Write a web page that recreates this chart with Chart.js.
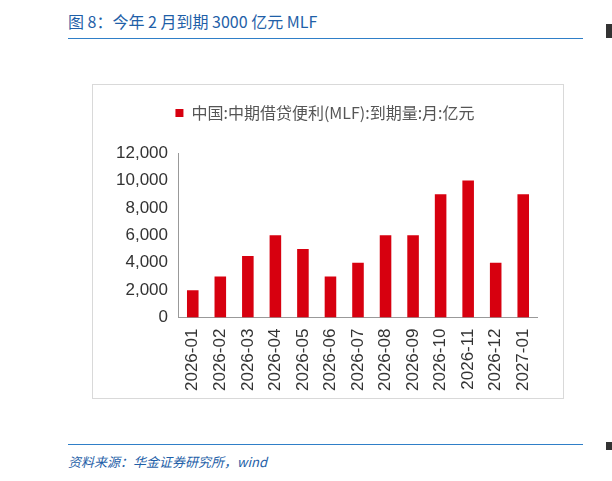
<!DOCTYPE html>
<html><head><meta charset="utf-8">
<script src="https://cdn.jsdelivr.net/npm/chart.js@4"></script>
<style>
body{margin:0;width:612px;height:481px;background:#fff;position:relative;font-family:"Noto Sans CJK SC","Noto Sans",sans-serif;overflow:hidden}
#title{position:absolute;left:68px;top:9px;font-size:16px;color:#1f5fa8}
#line1{position:absolute;left:68px;top:38px;width:515px;height:1px;background:#2f7fc8}
#box{position:absolute;left:92px;top:84px;width:470px;height:313px;border:1px solid #d9d9d9}
#line2{position:absolute;left:68px;top:444px;width:515px;height:1px;background:#2f7fc8}
#src{position:absolute;left:68px;top:452px;font-size:13px;font-style:italic;color:#1f5fa8}
.edge{position:absolute;left:606px;width:6px;height:14px;background:#333}
</style></head>
<body>
<div id="title">图 8：今年 2 月到期 3000 亿元 MLF</div>
<div id="line1"></div>
<div id="box"><canvas id="c" width="470" height="313"></canvas></div>
<div id="line2"></div>
<div id="src">资料来源：华金证券研究所，wind</div>
<div class="edge" style="top:24px"></div>
<div class="edge" style="top:442px;height:8px"></div>
<script>
const months = ['2026-01','2026-02','2026-03','2026-04','2026-05','2026-06','2026-07','2026-08','2026-09','2026-10','2026-11','2026-12','2027-01'];
const mlfDue = [2000,3000,4500,6000,5000,3000,4000,6000,6000,9000,10000,4000,9000];
const seriesName = '中国:中期借贷便利(MLF):到期量:月:亿元';

const legendGap = {
  id: 'legendGap',
  beforeInit(chart) {
    const fit = chart.legend.fit;
    chart.legend.fit = function () { fit.bind(this)(); this.height += 22; };
  }
};

new Chart(document.getElementById('c'), {
  type: 'bar',
  data: { labels: months, datasets: [{ label: seriesName, data: mlfDue, backgroundColor: '#d7000f', barPercentage: 0.42, categoryPercentage: 1 }] },
  options: {
    responsive: false, animation: false,
    layout: { padding: { left: 20, right: 26, top: 10, bottom: 4 } },
    plugins: {
      legend: { labels: { boxWidth: 8, boxHeight: 8, color: '#555', font: { size: 16, family: 'Noto Sans CJK SC' } } },
      tooltip: { enabled: false }
    },
    scales: {
      x: { grid: { display: false }, border: { color: '#999' },
           ticks: { maxRotation: 90, minRotation: 90, color: '#333', font: { size: 17, family: 'Liberation Sans' } } },
      y: { min: 0, max: 12000, grid: { display: false }, border: { color: '#999' },
           ticks: { stepSize: 2000, color: '#333', font: { size: 17, family: 'Liberation Sans' },
                    callback: v => v.toLocaleString('en-US') } }
    }
  },
  plugins: [legendGap]
});
</script>
</body></html>
